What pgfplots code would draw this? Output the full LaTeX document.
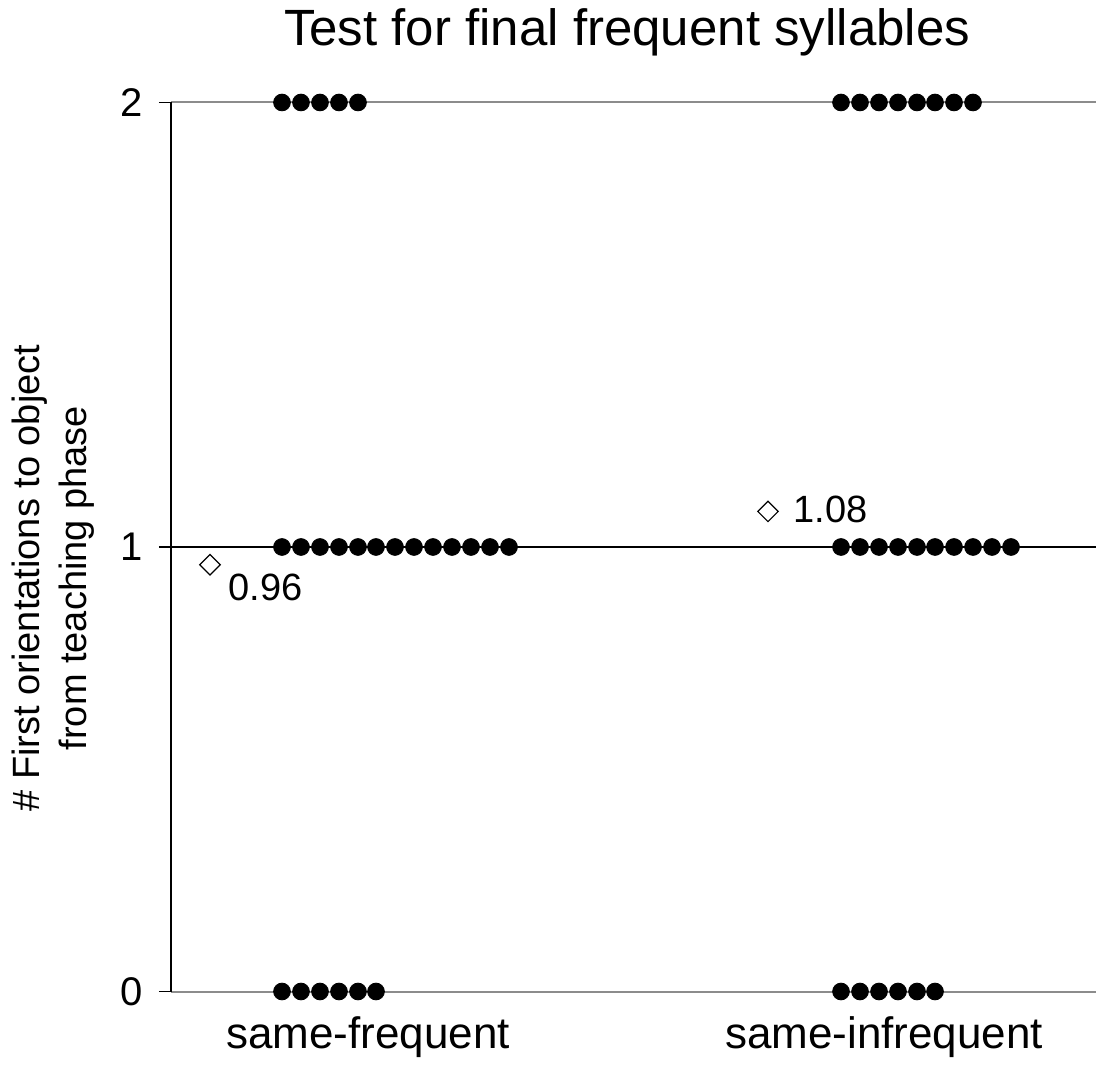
\documentclass[border=0pt]{standalone}
\usepackage{fontspec}
\setmainfont{Liberation Sans}
\usepackage{pgfplots}
\pgfplotsset{compat=1.18}
\begin{document}
\begin{tikzpicture}
\begin{axis}[
  name=ax,
  scale only axis,
  width=462.5pt, height=444.5pt,
  xmin=171, xmax=1096, ymin=0, ymax=2,
  clip=false,
  axis lines*=left,
  x axis line style={draw=none},
  y axis line style={black, line width=0.8pt},
  xtick={368,884},
  xticklabels={same-frequent,same-infrequent},
  x tick style={draw=none},
  xticklabel style={font=\fontsize{22}{26}\selectfont, yshift=-3pt},
  ytick={0,2},
  extra y ticks={1},
  extra y tick labels={1},
  extra y tick style={grid style={black, line width=0.8pt}},
  y tick style={black, line width=0.8pt},
  tick align=outside,
  major tick length=6pt,
  yticklabel style={font=\fontsize{20}{24}\selectfont, xshift=-4.5pt},
  /pgf/number format/assume math mode=true,
  ymajorgrids,
  grid style={black!45, line width=1pt},
  title={Test for final frequent syllables},
  title style={font=\fontsize{25.5}{30}\selectfont, at={(axis description cs:0.493,1.0505)}, anchor=base},
  ylabel={\# First orientations to object\\from teaching phase},
  ylabel style={font=\fontsize{19}{23.5}\selectfont, align=center, at={(axis description cs:-0.1276,0.465)}, anchor=center},
]
% same-frequent
\addplot[only marks, mark=*, mark size=4.2pt, black] coordinates {
 (282,2) (301,2) (320,2) (339,2) (358,2)
 (282,1) (301,1) (320,1) (339,1) (358,1) (376,1) (395,1) (414,1) (433,1) (452,1) (471,1) (490,1) (509,1)
 (282,0) (301,0) (320,0) (339,0) (358,0) (376,0)
};
% same-infrequent
\addplot[only marks, mark=*, mark size=4.2pt, black] coordinates {
 (841,2) (860,2) (879,2) (898,2) (917,2) (935,2) (954,2) (973,2)
 (841,1) (860,1) (879,1) (898,1) (917,1) (935,1) (954,1) (973,1) (992,1) (1011,1)
 (841,0) (860,0) (879,0) (898,0) (917,0) (935,0)
};
% means
\addplot[only marks, mark=square, mark size=3.6pt, mark options={rotate=45, fill=white, draw=black, line width=0.6pt},
  nodes near coords, point meta=explicit symbolic,
  every node near coord/.append style={font=\fontsize{19}{23}\selectfont, anchor=west, inner sep=0pt, xshift=9pt, yshift=-11.5pt}]
  coordinates {(210,0.96) [0.96]};
\addplot[only marks, mark=square, mark size=3.6pt, mark options={rotate=45, fill=white, draw=black, line width=0.6pt},
  nodes near coords, point meta=explicit symbolic,
  every node near coord/.append style={font=\fontsize{19}{23}\selectfont, anchor=west, inner sep=0pt, xshift=12.5pt, yshift=1pt}]
  coordinates {(768,1.08) [1.08]};
\end{axis}
\pgfresetboundingbox
\path ([xshift=-85.5pt,yshift=-36.25pt]ax.south west) rectangle ([yshift=51.25pt]ax.north east);
\end{tikzpicture}
\end{document}
